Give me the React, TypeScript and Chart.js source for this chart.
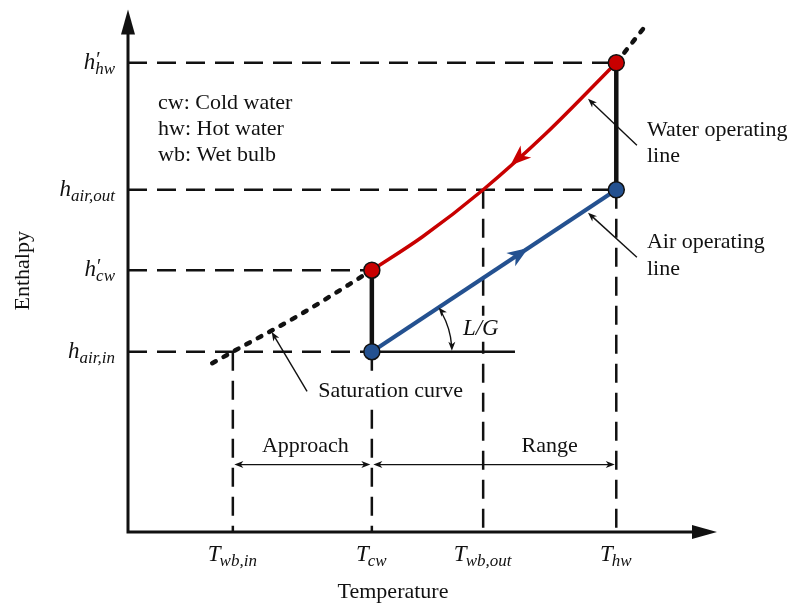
import React, { useEffect, useRef } from 'react';
import { Chart, registerables } from 'chart.js';

Chart.register(...registerables);

// ---- tick positions & labels (arbitrary units 0..100) ----
const xTickValues = [17.8, 41.4, 60.3, 82.9];
const xTickMain = ['T', 'T', 'T', 'T'];
const xTickSub = ['wb,in', 'cw', 'wb,out', 'hw'];
const yTickValues = [34.5, 50.1, 65.5, 89.8];
const yTickMain = ['h', 'h', 'h', 'h'];
const yTickPrime = [false, true, false, true];
const yTickSub = ['air,in', 'cw', 'air,out', 'hw'];
const hLineEndX = [41.4, 41.4, 82.9, 82.9];
const vLineTopY = [34.5, 34.5, 65.5, 65.5];

// ---- curves ----
const satLowerX = [14.3, 17.8, 29.2, 41.4];
const satLowerY = [32.3, 34.5, 41.6, 50.1];
const waterX = [41.4, 50.0, 60.3, 71.0, 82.9];
const waterY = [50.1, 56.5, 65.5, 76.3, 89.8];
const satUpperX = [82.9, 88.3];
const satUpperY = [89.8, 97.5];
const airX = [41.4, 82.9];
const airY = [34.5, 65.5];
const lgBaseX = [41.4, 65.7];
const lgBaseY = [34.5, 34.5];
const barX = [41.4, 82.9];
const barLow = [34.5, 65.5];
const barHigh = [50.1, 89.8];
const waterDotX = [41.4, 82.9];
const waterDotY = [50.1, 89.8];
const airDotX = [41.4, 82.9];
const airDotY = [34.5, 65.5];

const legendLines = ['cw: Cold water', 'hw: Hot water', 'wb: Wet bulb'];
const legendX = 5.1;
const legendY = [82.0, 77.0, 72.1];

const SERIF = '"Liberation Serif", "Times New Roman", serif';
const RED = '#c80000';
const BLUE = '#245190';
const INK = '#111111';

const pts = (xs: number[], ys: number[]) => xs.map((x, i) => ({ x, y: ys[i] }));

function arrowHead(ctx: CanvasRenderingContext2D, tx: number, ty: number, ang: number, len: number, hw: number, color: string, notch = 0.72) {
  const c = Math.cos(ang), s = Math.sin(ang);
  const bx = tx - len * c, by = ty - len * s;
  ctx.beginPath();
  ctx.moveTo(tx, ty);
  ctx.lineTo(bx - hw * s, by + hw * c);
  ctx.lineTo(tx - notch * len * c, ty - notch * len * s);
  ctx.lineTo(bx + hw * s, by - hw * c);
  ctx.closePath();
  ctx.fillStyle = color;
  ctx.fill();
}

function pointer(ctx: CanvasRenderingContext2D, x0: number, y0: number, x1: number, y1: number, lw = 1.4, len = 9, hw = 3.5) {
  const ang = Math.atan2(y1 - y0, x1 - x0);
  ctx.beginPath();
  ctx.moveTo(x0, y0);
  ctx.lineTo(x1 - Math.cos(ang) * len * 0.6, y1 - Math.sin(ang) * len * 0.6);
  ctx.lineWidth = lw;
  ctx.strokeStyle = INK;
  ctx.stroke();
  arrowHead(ctx, x1, y1, ang, len, hw, INK);
}

const decorPlugin = {
  id: 'decor',
  beforeDatasetsDraw(chart: any) {
    const ctx: CanvasRenderingContext2D = chart.ctx;
    const a = chart.chartArea;
    ctx.save();
    // axes
    ctx.strokeStyle = INK;
    ctx.lineWidth = 3;
    ctx.beginPath();
    ctx.moveTo(a.left, a.bottom);
    ctx.lineTo(a.left, a.top + 20);
    ctx.moveTo(a.left - 1.5, a.bottom);
    ctx.lineTo(a.right - 20, a.bottom);
    ctx.stroke();
    arrowHead(ctx, a.left, a.top, -Math.PI / 2, 25, 7, INK, 1);
    arrowHead(ctx, a.right, a.bottom, 0, 25, 7, INK, 1);
    ctx.restore();
  },
  afterDatasetsDraw(chart: any) {
    const ctx: CanvasRenderingContext2D = chart.ctx;
    const a = chart.chartArea;
    const px = (v: number) => chart.scales.x.getPixelForValue(v);
    const py = (v: number) => chart.scales.y.getPixelForValue(v);
    ctx.save();

    // arrowheads on the operating lines
    {
      const t = 0.43;
      const x0 = px(waterX[2]), y0 = py(waterY[2]), x1 = px(waterX[3]), y1 = py(waterY[3]);
      const tx = x0 + (x1 - x0) * t, ty = y0 + (y1 - y0) * t;
      arrowHead(ctx, tx, ty, Math.atan2(y0 - y1, x0 - x1), 21, 8, RED);
    }
    {
      const t = 0.64;
      const x0 = px(airX[0]), y0 = py(airY[0]), x1 = px(airX[1]), y1 = py(airY[1]);
      const tx = x0 + (x1 - x0) * t, ty = y0 + (y1 - y0) * t;
      arrowHead(ctx, tx, ty, Math.atan2(y1 - y0, x1 - x0), 21, 8, BLUE);
    }

    // L/G arc
    {
      const cx = px(airX[0]), cy = py(airY[0]);
      const th = Math.atan2(py(airY[1]) - cy, px(airX[1]) - cx);
      const r = 80;
      ctx.beginPath();
      ctx.arc(cx, cy, r, th + 0.08, -0.08, false);
      ctx.lineWidth = 1.4;
      ctx.strokeStyle = INK;
      ctx.stroke();
      arrowHead(ctx, cx + r, cy - 1, Math.PI / 2, 9, 3.5, INK);
      arrowHead(ctx, cx + r * Math.cos(th), cy + r * Math.sin(th), th - Math.PI / 2 - 0.1, 9, 3.5, INK);
      ctx.font = `italic 23px ${SERIF}`;
      ctx.textAlign = 'center';
      ctx.textBaseline = 'middle';
      const lx = px(59.9), ly = py(38.9);
      const lw = ctx.measureText('L/G').width;
      ctx.fillStyle = '#ffffff';
      ctx.fillRect(lx - lw / 2 - 2, ly - 13, lw + 4, 26);
      ctx.fillStyle = INK;
      ctx.fillText('L/G', lx, ly);
    }

    // pointer arrows
    pointer(ctx, px(86.4), py(74.0), px(78.1), py(82.9));
    pointer(ctx, px(86.4), py(52.6), px(78.1), py(61.1));
    pointer(ctx, px(30.4), py(26.9), px(24.4), py(38.3));

    // Approach / Range dimension arrows
    const dimY = py(12.9);
    const dims = [[xTickValues[0], xTickValues[1]], [xTickValues[1], xTickValues[3]]];
    dims.forEach(([u, v]) => {
      const xa = px(u), xb = px(v);
      ctx.beginPath();
      ctx.moveTo(xa + 5, dimY);
      ctx.lineTo(xb - 5, dimY);
      ctx.lineWidth = 1.4;
      ctx.strokeStyle = INK;
      ctx.stroke();
      arrowHead(ctx, xa + 1.5, dimY, Math.PI, 9, 3.5, INK);
      arrowHead(ctx, xb - 1.5, dimY, 0, 9, 3.5, INK);
    });

    // text annotations
    ctx.font = `22px ${SERIF}`;
    ctx.textBaseline = 'middle';
    ctx.textAlign = 'center';
    ctx.fillStyle = INK;
    ctx.fillText('Approach', px((xTickValues[0] + xTickValues[1]) / 2) + 3, py(16.5));
    ctx.fillText('Range', px((xTickValues[2] + xTickValues[3]) / 2), py(16.5));
    ctx.textAlign = 'left';
    {
      const sx = px(32.3), sy = py(26.9);
      const w = ctx.measureText('Saturation curve').width;
      ctx.fillStyle = '#ffffff';
      ctx.fillRect(sx - 2, sy - 12, w + 4, 24);
      ctx.fillStyle = INK;
      ctx.fillText('Saturation curve', sx, sy);
    }
    ctx.fillText('Water operating', px(88.1), py(76.9));
    ctx.fillText('line', px(88.1), py(71.9));
    ctx.fillText('Air operating', px(88.1), py(55.4));
    ctx.fillText('line', px(88.1), py(50.3));
    legendLines.forEach((s, i) => ctx.fillText(s, px(legendX), py(legendY[i])));

    // axis titles
    ctx.textAlign = 'center';
    ctx.fillText('Temperature', 393, a.bottom + 60);
    ctx.save();
    ctx.translate(23, (a.top + a.bottom) / 2);
    ctx.rotate(-Math.PI / 2);
    ctx.fillText('Enthalpy', 0, 0);
    ctx.restore();

    // x tick labels
    ctx.textBaseline = 'alphabetic';
    ctx.textAlign = 'left';
    xTickValues.forEach((v, i) => {
      ctx.font = `italic 23px ${SERIF}`;
      const wm = ctx.measureText(xTickMain[i]).width;
      ctx.font = `italic 17px ${SERIF}`;
      const ws = ctx.measureText(xTickSub[i]).width;
      const x0 = px(v) - (wm + ws) / 2;
      const base = a.bottom + 29;
      ctx.font = `italic 23px ${SERIF}`;
      ctx.fillText(xTickMain[i], x0, base);
      ctx.font = `italic 17px ${SERIF}`;
      ctx.fillText(xTickSub[i], x0 + wm - 1, base + 5);
    });

    // y tick labels
    yTickValues.forEach((v, i) => {
      ctx.font = `italic 23px ${SERIF}`;
      const wm = ctx.measureText(yTickMain[i]).width;
      ctx.font = `italic 17px ${SERIF}`;
      const ws = ctx.measureText(yTickSub[i]).width;
      const right = a.left - 13;
      const x0 = right - wm - ws;
      const base = py(v) + 6;
      ctx.font = `italic 23px ${SERIF}`;
      ctx.fillText(yTickMain[i], x0, base);
      if (yTickPrime[i]) {
        ctx.font = `20px ${SERIF}`;
        ctx.fillText('\u2032', x0 + wm + 1, base - 3);
      }
      ctx.font = `italic 17px ${SERIF}`;
      ctx.fillText(yTickSub[i], x0 + wm, base + 5);
    });

    ctx.restore();
  },
};

export default function App() {
  const ref = useRef<HTMLCanvasElement | null>(null);
  useEffect(() => {
    document.body.style.margin = '0';
    const canvas = ref.current;
    if (!canvas) return;

    const dashed: any[] = [];
    yTickValues.forEach((v, i) => {
      dashed.push({
        data: [{ x: 0, y: v }, { x: hLineEndX[i], y: v }],
        borderColor: INK, borderWidth: 2.5, borderDash: [19, 10], order: 5,
      });
    });
    xTickValues.forEach((v, i) => {
      dashed.push({
        data: [{ x: v, y: vLineTopY[i] }, { x: v, y: 0 }],
        borderColor: INK, borderWidth: 2.5, borderDash: [19, 10], order: 5,
      });
    });

    const bars = barX.map((x, i) => ({
      data: [{ x, y: barLow[i] }, { x, y: barHigh[i] }],
      borderColor: INK, borderWidth: 4.5, order: 1,
    }));

    const datasets: any[] = [
      {
        data: pts(waterDotX, waterDotY), showLine: false, pointRadius: 8,
        pointBackgroundColor: RED, pointBorderColor: INK, pointBorderWidth: 1.5, order: 0,
      },
      {
        data: pts(airDotX, airDotY), showLine: false, pointRadius: 8,
        pointBackgroundColor: BLUE, pointBorderColor: INK, pointBorderWidth: 1.5, order: 0,
      },
      ...bars,
      {
        data: pts(waterX, waterY), borderColor: RED, borderWidth: 3.5,
        cubicInterpolationMode: 'monotone', order: 2,
      },
      { data: pts(airX, airY), borderColor: BLUE, borderWidth: 4, order: 2 },
      { data: pts(lgBaseX, lgBaseY), borderColor: INK, borderWidth: 2.5, order: 2 },
      {
        data: pts(satLowerX, satLowerY), borderColor: INK, borderWidth: 4.5,
        borderDash: [4, 9], borderCapStyle: 'round', cubicInterpolationMode: 'monotone', order: 2,
      },
      {
        data: pts(satUpperX, satUpperY), borderColor: INK, borderWidth: 4.5,
        borderDash: [4, 9], borderCapStyle: 'round', order: 2,
      },
      ...dashed,
    ];
    datasets.forEach((d) => {
      if (d.showLine === undefined) d.showLine = true;
      if (d.pointRadius === undefined) d.pointRadius = 0;
      d.clip = false;
      d.fill = false;
    });

    const chart = new Chart(canvas, {
      type: 'scatter',
      data: { datasets },
      options: {
        animation: false,
        responsive: false,
        devicePixelRatio: 1,
        events: [],
        layout: { padding: { left: 128, right: 79, top: 5, bottom: 81 } },
        scales: {
          x: { type: 'linear', display: false, min: 0, max: 100 },
          y: { type: 'linear', display: false, min: 0, max: 100 },
        },
        plugins: { legend: { display: false }, tooltip: { enabled: false } },
      },
      plugins: [decorPlugin],
    } as any);
    return () => chart.destroy();
  }, []);

  return (
    <div style={{ position: 'absolute', left: 0, top: 0, width: 796, height: 613, background: '#fff' }}>
      <canvas ref={ref} width={796} height={613} style={{ display: 'block' }} />
    </div>
  );
}
